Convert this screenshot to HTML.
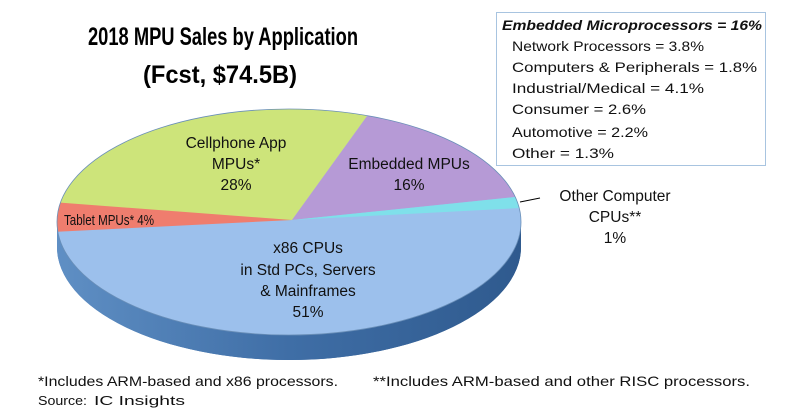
<!DOCTYPE html>
<html><head><meta charset="utf-8"><style>
html,body{margin:0;padding:0;background:#fff;}
svg{display:block;font-family:"Liberation Sans",sans-serif;}
</style></head><body>
<svg width="800" height="412" viewBox="0 0 800 412" xmlns="http://www.w3.org/2000/svg">
<defs>
<clipPath id="top"><ellipse cx="289" cy="222" rx="232" ry="113"/></clipPath>
<linearGradient id="side" x1="0" y1="0" x2="1" y2="0">
<stop offset="0" stop-color="#5f8fc4"/><stop offset="0.5" stop-color="#3f6ea6"/><stop offset="1" stop-color="#2f5a8e"/>
</linearGradient>
</defs>
<text x="88" y="45" font-size="25" font-weight="bold" textLength="270" lengthAdjust="spacingAndGlyphs">2018 MPU Sales by Application</text>
<text x="143" y="83" font-size="25" font-weight="bold" textLength="154" lengthAdjust="spacingAndGlyphs">(Fcst, $74.5B)</text>
<path d="M57 222 L57 247 A232 113 0 0 0 521 247 L521 222 Z" fill="url(#side)"/>
<ellipse cx="289" cy="247" rx="232" ry="113" fill="url(#side)"/>
<g clip-path="url(#top)">
<rect x="50" y="100" width="480" height="250" fill="#9cc0ec"/>
<polygon points="292,220 52,230 52,100 370,100 370,112" fill="#cde47a"/>
<polygon points="292,220 370,112 370,100 530,100 530,197 515,197" fill="#b69ad6"/>
<polygon points="292,220 515,197 530,197 530,208 520,208" fill="#7fe0ea"/>
<polygon points="292,220 52,202 52,232" fill="#ef7d6e"/>
</g>
<ellipse cx="289" cy="222" rx="232" ry="113" fill="none" stroke="#6a8fb8" stroke-width="0.8"/>
<line x1="520" y1="202" x2="540" y2="198" stroke="#000" stroke-width="1"/>
<g font-size="15.5" text-anchor="middle" fill="#111">
<text x="236" y="148">Cellphone App</text>
<text x="236" y="169">MPUs*</text>
<text x="236" y="190">28%</text>
<text x="409" y="169">Embedded MPUs</text>
<text x="409" y="190">16%</text>
<text x="308" y="253">x86 CPUs</text>
<text x="308" y="275">in Std PCs, Servers</text>
<text x="308" y="296">&amp; Mainframes</text>
<text x="308" y="317">51%</text>
<text x="615" y="201">Other Computer</text>
<text x="615" y="222">CPUs**</text>
<text x="615" y="243">1%</text>
</g>
<text x="64" y="225" font-size="15" fill="#111" textLength="90" lengthAdjust="spacingAndGlyphs">Tablet MPUs* 4%</text>
<rect x="496.5" y="12.5" width="269" height="153" fill="#fff" stroke="#a8c4e0" stroke-width="1"/>
<g font-size="14" fill="#111">
<text x="502" y="30" font-weight="bold" font-style="italic" textLength="260" lengthAdjust="spacingAndGlyphs">Embedded Microprocessors = 16%</text>
<text x="512" y="51" textLength="192" lengthAdjust="spacingAndGlyphs">Network Processors = 3.8%</text>
<text x="512" y="72" textLength="245" lengthAdjust="spacingAndGlyphs">Computers &amp; Peripherals = 1.8%</text>
<text x="512" y="93" textLength="192" lengthAdjust="spacingAndGlyphs">Industrial/Medical = 4.1%</text>
<text x="512" y="114" textLength="134" lengthAdjust="spacingAndGlyphs">Consumer = 2.6%</text>
<text x="512" y="137" textLength="136" lengthAdjust="spacingAndGlyphs">Automotive = 2.2%</text>
<text x="512" y="158" textLength="102" lengthAdjust="spacingAndGlyphs">Other = 1.3%</text>
</g>
<text x="38" y="386" font-size="14" fill="#111" textLength="300" lengthAdjust="spacingAndGlyphs">*Includes ARM-based and x86 processors.</text>
<text x="373" y="386" font-size="14" fill="#111" textLength="377" lengthAdjust="spacingAndGlyphs">**Includes ARM-based and other RISC processors.</text>
<text x="38" y="405" font-size="13" fill="#111" textLength="49" lengthAdjust="spacingAndGlyphs">Source:</text>
<text x="94" y="405" font-size="13" fill="#111" textLength="91" lengthAdjust="spacingAndGlyphs">IC Insights</text>
</svg>
</body></html>
